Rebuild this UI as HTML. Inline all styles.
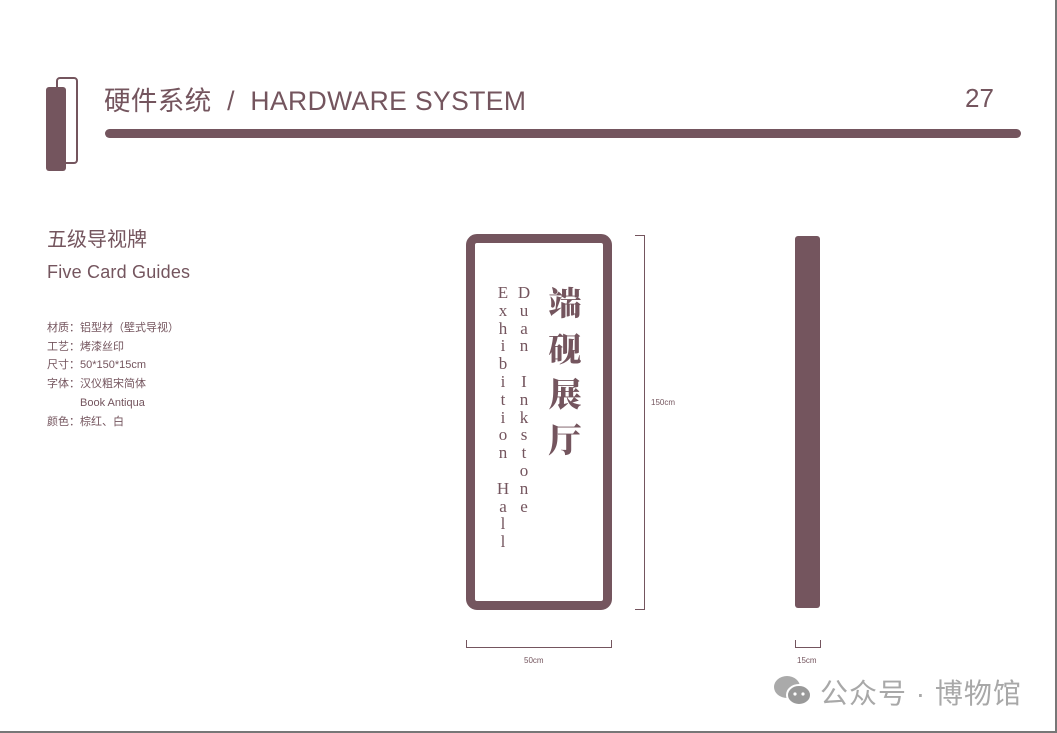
<!DOCTYPE html>
<html><head><meta charset="utf-8"><style>
body{margin:0;width:1057px;height:733px;background:#fff;position:relative;overflow:hidden;font-family:"Liberation Sans","Noto Sans CJK SC",sans-serif;color:#74555e}
.a{position:absolute}
.c{background:#74555e}
.v{position:absolute;width:20px;text-align:center;font-family:"Liberation Serif","Noto Serif CJK SC",serif;font-size:17px;line-height:17.8px;color:#74555e}
.s{font-size:11px;line-height:18.7px;color:#74555e}
</style></head><body>
<div class="a" style="left:0;top:0;width:1055px;height:731px;border-right:2px solid #777;border-bottom:2px solid #777"></div>
<div class="a" style="left:56px;top:77px;width:18px;height:83px;border:2px solid #74555e;border-radius:4px"></div>
<div class="a c" style="left:46px;top:87px;width:20px;height:84px;border-radius:3px"></div>
<div class="a c" style="left:105px;top:129px;width:916px;height:9px;border-radius:5px"></div>
<div class="a" style="left:104px;top:79px;font-size:26.5px;letter-spacing:0.4px;white-space:nowrap">硬件系统&nbsp; /&nbsp; HARDWARE SYSTEM</div>
<div class="a" style="left:965px;top:83px;font-size:26px">27</div>
<div class="a" style="left:47px;top:223px;font-size:20px">五级导视牌</div>
<div class="a" style="left:47px;top:262px;font-size:18px;letter-spacing:0.2px">Five Card Guides</div>
<div class="a s" style="left:47px;top:319px;white-space:nowrap">材质：铝型材（壁式导视）<br>工艺：烤漆丝印<br>尺寸：50*150*15cm<br>字体：汉仪粗宋简体<br><span style="padding-left:33px">Book Antiqua</span><br>颜色：棕红、白</div>
<div class="a" style="left:466px;top:234px;width:128px;height:358px;border:9px solid #74555e;border-radius:11px"></div>
<div class="v" style="left:493px;top:284px">E<br>x<br>h<br>i<br>b<br>i<br>t<br>i<br>o<br>n<br><br>H<br>a<br>l<br>l</div>
<div class="v" style="left:514px;top:284px">D<br>u<br>a<br>n<br><br>I<br>n<br>k<br>s<br>t<br>o<br>n<br>e</div>
<div class="a" style="left:545px;top:279px;width:40px;font-family:'Noto Serif CJK SC',serif;font-weight:900;font-size:33px;line-height:45.5px;text-align:center">端<br>砚<br>展<br>厅</div>
<div class="a" style="left:635px;top:235px;width:9px;height:373px;border:1.5px solid #74555e;border-left:none"></div>
<div class="a" style="left:651px;top:398px;font-size:8px">150cm</div>
<div class="a c" style="left:795px;top:236px;width:25px;height:372px;border-radius:3px"></div>
<div class="a" style="left:466px;top:640px;width:144px;height:7px;border:1.5px solid #74555e;border-top:none"></div>
<div class="a" style="left:524px;top:656px;font-size:8px">50cm</div>
<div class="a" style="left:795px;top:640px;width:24px;height:7px;border:1.5px solid #74555e;border-top:none"></div>
<div class="a" style="left:797px;top:656px;font-size:8px">15cm</div>
<svg class="a" style="left:772px;top:674px" width="42" height="34"><ellipse cx="15" cy="13" rx="13" ry="11" fill="#aaa"/><ellipse cx="27" cy="21" rx="12" ry="10" fill="#999" stroke="#fff" stroke-width="2"/><circle cx="23" cy="20" r="1.6" fill="#fff"/><circle cx="31" cy="20" r="1.6" fill="#fff"/></svg>
<div class="a" style="left:820px;top:672px;font-size:28px;letter-spacing:1px;color:#a8a8a8;white-space:nowrap">公众号 · 博物馆</div>
</body></html>
